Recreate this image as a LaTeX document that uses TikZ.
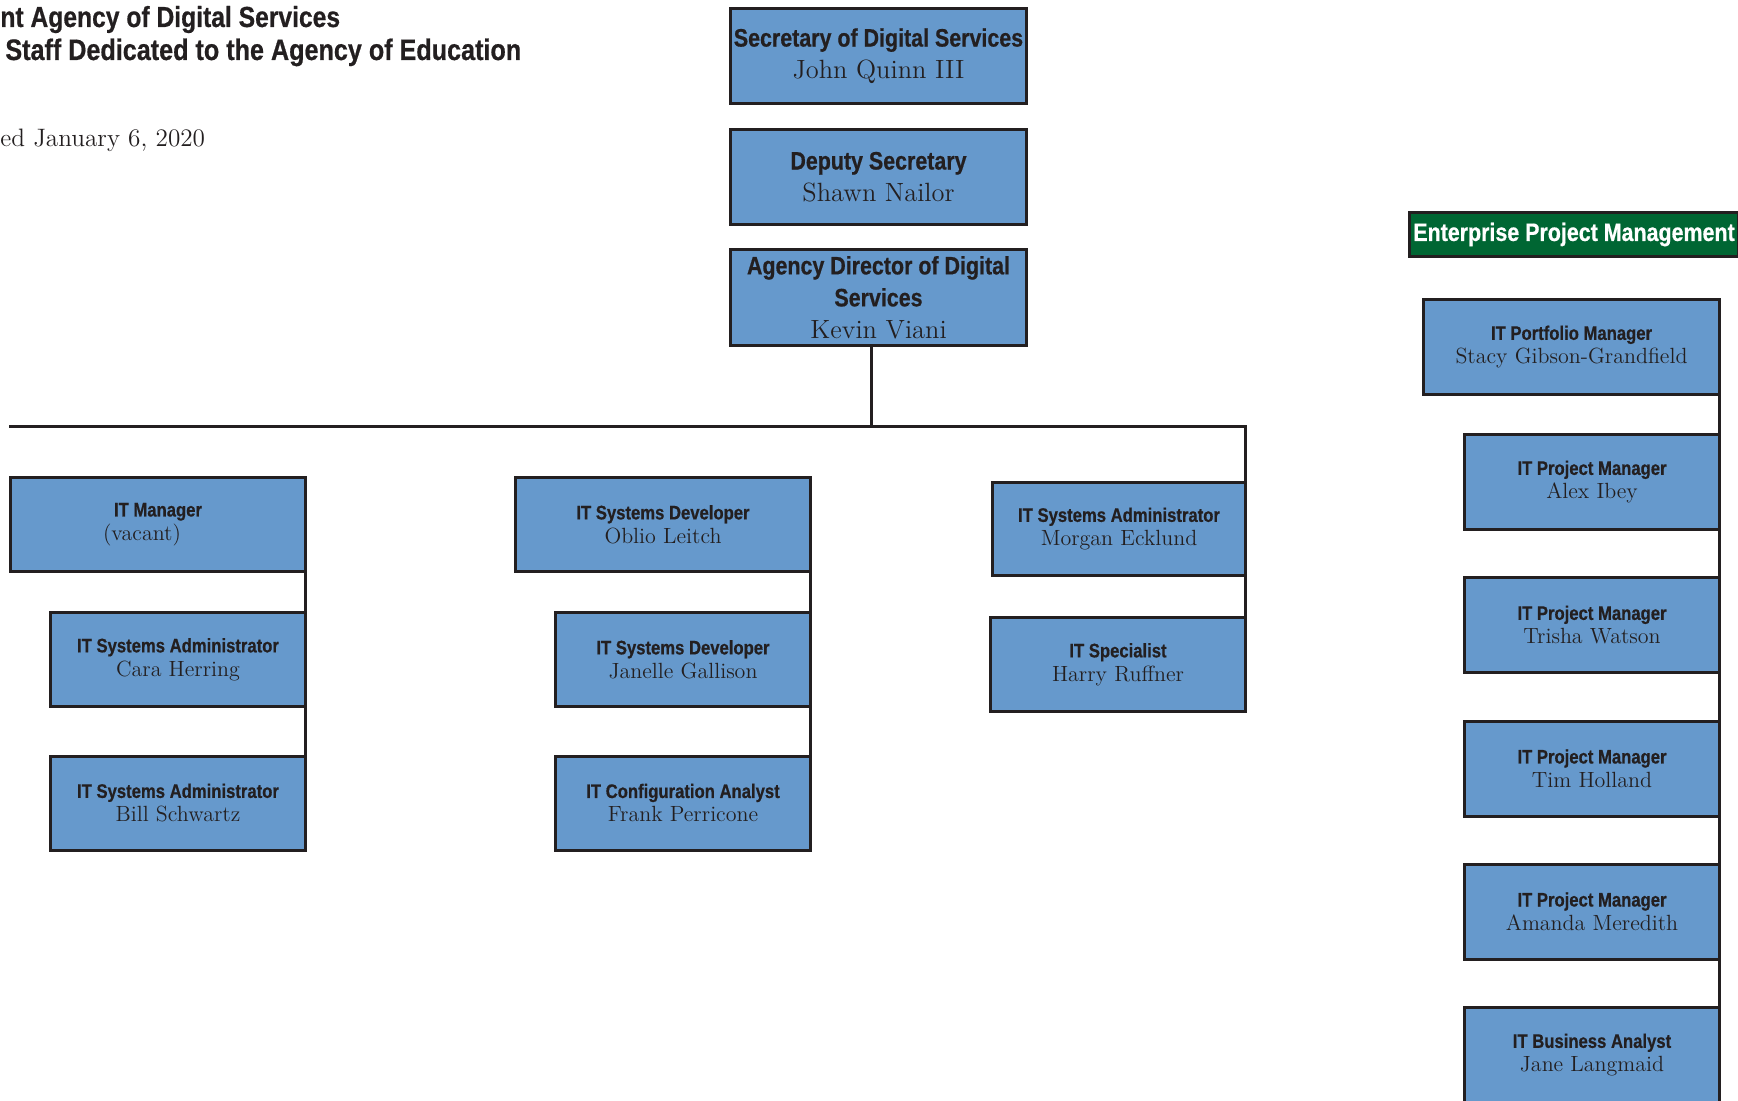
\documentclass[tikz,border=0pt]{standalone}
\usepackage{fontspec}
\newfontfamily\condf[FakeStretch=0.85, BoldFeatures={FakeBold=0.6}]{Liberation Sans}
\definecolor{boxblue}{HTML}{6699CC}
\definecolor{ink}{HTML}{231F20}
\definecolor{epmgreen}{HTML}{006633}
\tikzset{
 orgbox/.style={draw=ink, line width=1.5pt, fill=boxblue, inner sep=0pt, outer sep=0pt, align=center, text=ink},
 bigbox/.style={orgbox, minimum width=148pt, minimum height=47.5pt, font=\fontsize{13.2}{16}\selectfont},
 smallbox/.style={orgbox, minimum height=47pt, font=\fontsize{11}{12}\selectfont},
 link/.style={draw=ink, line width=1.5pt},
 heading/.style={inner sep=0pt, anchor=base west, text=ink},
}
\newcommand\bigt[1]{{\condf\bfseries\fontsize{12.6}{16}\selectfont #1}}
\newcommand\smt[1]{{\condf\bfseries\fontsize{9.8}{12}\selectfont #1}}
\begin{document}
\begin{tikzpicture}[x=0.5pt,y=-0.5pt]
\useasboundingbox (0,0) rectangle (1738,1101);
% headings
\node[heading, font=\condf\bfseries\fontsize{14.5}{17}\selectfont] (h1) at (0,27) {nt Agency of Digital Services};
\node[heading, font=\condf\bfseries\fontsize{14.8}{17}\selectfont] (h2) at (5,60) {Staff Dedicated to the Agency of Education};
\node[heading, font=\fontsize{12.6}{16}\selectfont] (h3) at (0,147) {ed January 6, 2020};
% top chain
\node[bigbox] (sec) at (878.5,56) {\bigt{Secretary of Digital Services}\\John Quinn III};
\node[bigbox] (dep) at (878.5,177) {\bigt{Deputy Secretary}\\Shawn Nailor};
\node[bigbox, minimum height=48pt] (dir) at (878.5,297.5) {\bigt{Agency Director of Digital}\\\bigt{Services}\\Kevin Viani};
% left group
\node[smallbox, minimum width=147.5pt] (itm) at (158,524.5) {\smt{IT Manager}\\(vacant)\hspace{16pt}\mbox{}};
\node[smallbox, minimum width=127.5pt] (cara) at (178,659.5) {\smt{IT Systems Administrator}\\Cara Herring};
\node[smallbox, minimum width=127.5pt] (bill) at (178,803) {\smt{IT Systems Administrator}\\Bill Schwartz};
% middle group
\node[smallbox, minimum width=147.5pt] (oblio) at (663,524.5) {\smt{IT Systems Developer}\\Oblio Leitch};
\node[smallbox, minimum width=127.5pt] (janelle) at (683,659.5) {\smt{IT Systems Developer}\\Janelle Gallison};
\node[smallbox, minimum width=127.5pt] (frank) at (683,803) {\smt{IT Configuration Analyst}\\Frank Perricone};
% right group
\node[smallbox, minimum width=126.5pt, minimum height=46.5pt] (morgan) at (1119,529) {\smt{IT Systems Administrator}\\Morgan Ecklund};
\node[smallbox, minimum width=127.5pt] (harry) at (1118,664.5) {\smt{IT Specialist}\\Harry Ruffner};
% enterprise project management
\node[draw=ink, line width=1.5pt, fill=epmgreen, text=white, inner sep=0pt, outer sep=0pt, minimum width=164.5pt, minimum height=22pt, font=\condf\bfseries\fontsize{12.6}{15}\selectfont] (epm) at (1574,234.5) {Enterprise Project Management};
\node[smallbox, minimum width=148pt, minimum height=47.5pt] (port) at (1571.5,347) {\smt{IT Portfolio Manager}\\Stacy Gibson-Grandfield};
\node[smallbox, minimum width=127.5pt, minimum height=47.5pt] (alex) at (1592,482) {\smt{IT Project Manager}\\Alex Ibey};
\node[smallbox, minimum width=127.5pt, minimum height=47.5pt] (trisha) at (1592,625) {\smt{IT Project Manager}\\Trisha Watson};
\node[smallbox, minimum width=127.5pt, minimum height=47.5pt] (tim) at (1592,768.5) {\smt{IT Project Manager}\\Tim Holland};
\node[smallbox, minimum width=127.5pt, minimum height=47.5pt] (amanda) at (1592,911.5) {\smt{IT Project Manager}\\Amanda Meredith};
\node[smallbox, minimum width=127.5pt, minimum height=47.5pt] (jane) at (1592,1055) {\smt{IT Business Analyst}\\Jane Langmaid};
% connectors
\coordinate (busL) at (9,426);
\coordinate (busJ) at (871,426);
\draw[link] (dir.south -| busJ) -- (busJ);
\draw[link] (busL) -- (busL -| morgan.north east) -- (morgan.north east);
\draw[link] (morgan.south east) -- (harry.north east);
\draw[link] (itm.south east) -- (cara.north east);
\draw[link] (cara.south east) -- (bill.north east);
\draw[link] (oblio.south east) -- (janelle.north east);
\draw[link] (janelle.south east) -- (frank.north east);
\draw[link] (port.south east) -- (alex.north east);
\draw[link] (alex.south east) -- (trisha.north east);
\draw[link] (trisha.south east) -- (tim.north east);
\draw[link] (tim.south east) -- (amanda.north east);
\draw[link] (amanda.south east) -- (jane.north east);
\end{tikzpicture}
\end{document}
